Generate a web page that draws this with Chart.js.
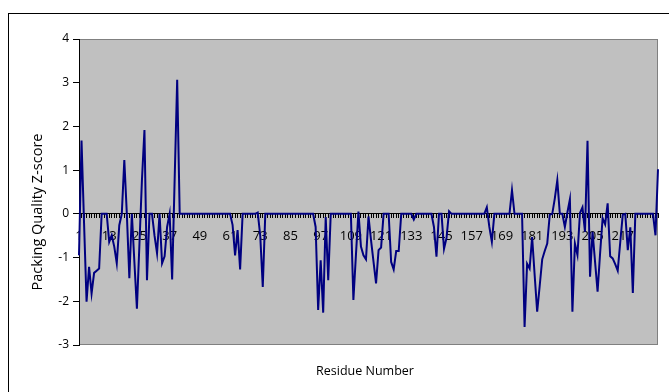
<!DOCTYPE html>
<html>
<head>
<meta charset="utf-8">
<title>Packing Quality Z-score</title>
<script src="https://cdn.jsdelivr.net/npm/chart.js@4.4.1/dist/chart.umd.min.js"></script>
<style>
    html, body { margin: 0; padding: 0; background: #fff; }
    #wrap { position: relative; width: 669px; height: 392px; overflow: hidden; }
</style>
</head>
<body>
<div id="wrap"><canvas id="zChart" width="669" height="392"></canvas></div>
<script>
// ===== DONNÉES =====

// numéros de résidus (axe des catégories)
const residueCount = 231;
const residues = Array.from({ length: residueCount }, (_, i) => String(i + 1));

// étiquettes affichées sur l'axe X (une toutes les 12)
const tickLabels = ['1', '13', '25', '37', '49', '61', '73', '85', '97', '109',
    '121', '133', '145', '157', '169', '181', '193', '205', '217'];

// graduations de l'axe Y
const yTicks = [-3, -2, -1, 0, 1, 2, 3, 4];

// Z-score par résidu
const zScores = [
    -0.95, 1.68, -0.2, -2.01, -1.21, -1.82, -1.35, -1.3, -1.25, 0,
    0, 0, -0.64, -0.49, -0.75, -1.13, -0.26, 0, 1.23, 0,
    -1.47, 0, -1.1, -2.17, -0.7, 0.77, 1.92, -1.52, 0, 0,
    -0.5, -0.9, 0, -1.13, -0.97, -0.3, 0, -1.5, 0.8, 3.07,
    0, 0, 0, 0, 0, 0, 0, 0, 0, 0,
    0, 0, 0, 0, 0, 0, 0, 0, 0, 0,
    0, -0.25, -0.95, -0.37, -1.27, 0, 0, 0, 0, 0,
    0, 0.03, -0.5, -1.67, 0, 0, 0, 0, 0, 0,
    0, 0, 0, 0, 0, 0, 0, 0, 0, 0,
    0, 0, 0, 0, -0.3, -2.2, -1.06, -2.26, -0.07, -1.52,
    0, 0, 0, 0, 0, 0, 0, 0, 0, -1.97,
    -0.95, 0.05, -0.75, -0.95, -1.04, -0.06, -0.6, -1.1, -1.59, -0.83,
    -0.77, 0, 0, 0, -1.1, -1.27, -0.85, -0.85, 0, 0,
    0, 0, 0, -0.13, 0, 0, 0, 0, 0, 0,
    0, -0.3, -0.98, 0, 0, -0.8, -0.55, 0.06, 0, 0,
    0, 0, 0, 0, 0, 0, 0, 0, 0, 0,
    0, 0, 0.15, -0.3, -0.64, 0, 0, 0, 0, 0,
    0, 0, 0.54, 0, 0, 0, 0, -2.59, -1.14, -1.25,
    -0.53, -1.4, -2.24, -1.65, -1.04, -0.85, -0.68, -0.02, 0, 0.35,
    0.77, 0, 0, -0.3, 0.03, 0.33, -2.24, -0.68, -0.94, 0.02,
    0.15, -0.41, 1.67, -1.44, -0.41, -1.1, -1.78, -0.9, -0.1, -0.24,
    0.24, -0.97, -1.02, -1.15, -1.3, -0.65, -0.02, 0, -0.83, -0.31,
    -1.81, 0, 0, 0, 0, 0, 0, 0, 0, -0.49,
    1.02
];

const FONT = '"Open Sans", "DejaVu Sans", sans-serif';

// ===== FOND GRIS + CADRE + TITRES D'AXES =====
const excelFrame = {
    id: 'excelFrame',
    beforeDraw(chart) {
        const { ctx, chartArea: a } = chart;
        ctx.save();
        // cadre extérieur (coupé à droite et en bas)
        ctx.strokeStyle = '#000';
        ctx.lineWidth = 1;
        ctx.strokeRect(8.5, 13.5, 900, 600);
        // zone de traçage
        ctx.fillStyle = '#c0c0c0';
        ctx.fillRect(a.left, a.top, a.right - a.left, a.bottom - a.top);
        ctx.strokeStyle = '#808080';
        ctx.strokeRect(a.left + 0.5, a.top + 0.5, a.right - a.left - 1, a.bottom - a.top - 1);
        ctx.restore();
    },
    afterDraw(chart) {
        const { ctx } = chart;
        ctx.save();
        ctx.fillStyle = '#000';
        ctx.textAlign = 'center';
        ctx.textBaseline = 'middle';
        ctx.font = '12.5px ' + FONT;
        ctx.fillText('Residue Number', 365, 371);
        ctx.font = '14.5px ' + FONT;
        ctx.translate(38, 212);
        ctx.rotate(-Math.PI / 2);
        ctx.fillText('Packing Quality Z-score', 0, 0);
        ctx.restore();
    }
};

// ===== GRAPHIQUE =====
function initChart() {
    const ctx = document.getElementById('zChart').getContext('2d');

    window.zChart = new Chart(ctx, {
        type: 'line',
        data: {
            labels: residues,
            datasets: [{
                label: 'Z-score',
                data: zScores,
                borderColor: '#000080',
                borderWidth: 2,
                pointRadius: 0,
                tension: 0,
                fill: false
            }]
        },
        options: {
            responsive: false,
            animation: false,
            events: [],
            layout: { padding: { top: 39, right: 2, bottom: 47, left: 0 } },
            plugins: {
                legend: { display: false },
                tooltip: { enabled: false }
            },
            scales: {
                x: {
                    type: 'category',
                    position: { y: 0 },
                    offset: false,
                    grid: {
                        drawOnChartArea: false,
                        drawTicks: true,
                        tickLength: 4,
                        color: '#000',
                        offset: false
                    },
                    border: { display: true, color: '#000', width: 1 },
                    ticks: {
                        autoSkip: false,
                        maxRotation: 0,
                        minRotation: 0,
                        padding: 11,
                        color: '#000',
                        font: { family: FONT, size: 13 },
                        callback: (value, index) =>
                            tickLabels.includes(residues[index]) ? residues[index] : ''
                    }
                },
                y: {
                    min: yTicks[0],
                    max: yTicks[yTicks.length - 1],
                    afterFit: scale => { scale.width = 79; },
                    afterBuildTicks: scale => {
                        scale.ticks = yTicks.map(v => ({ value: v }));
                    },
                    grid: {
                        drawOnChartArea: false,
                        tickLength: 6,
                        color: '#000'
                    },
                    border: { display: true, color: '#000', width: 1 },
                    ticks: {
                        padding: 4,
                        color: '#000',
                        font: { family: FONT, size: 12 }
                    }
                }
            }
        },
        plugins: [excelFrame]
    });
}

document.addEventListener('DOMContentLoaded', initChart);
</script>
</body>
</html>
